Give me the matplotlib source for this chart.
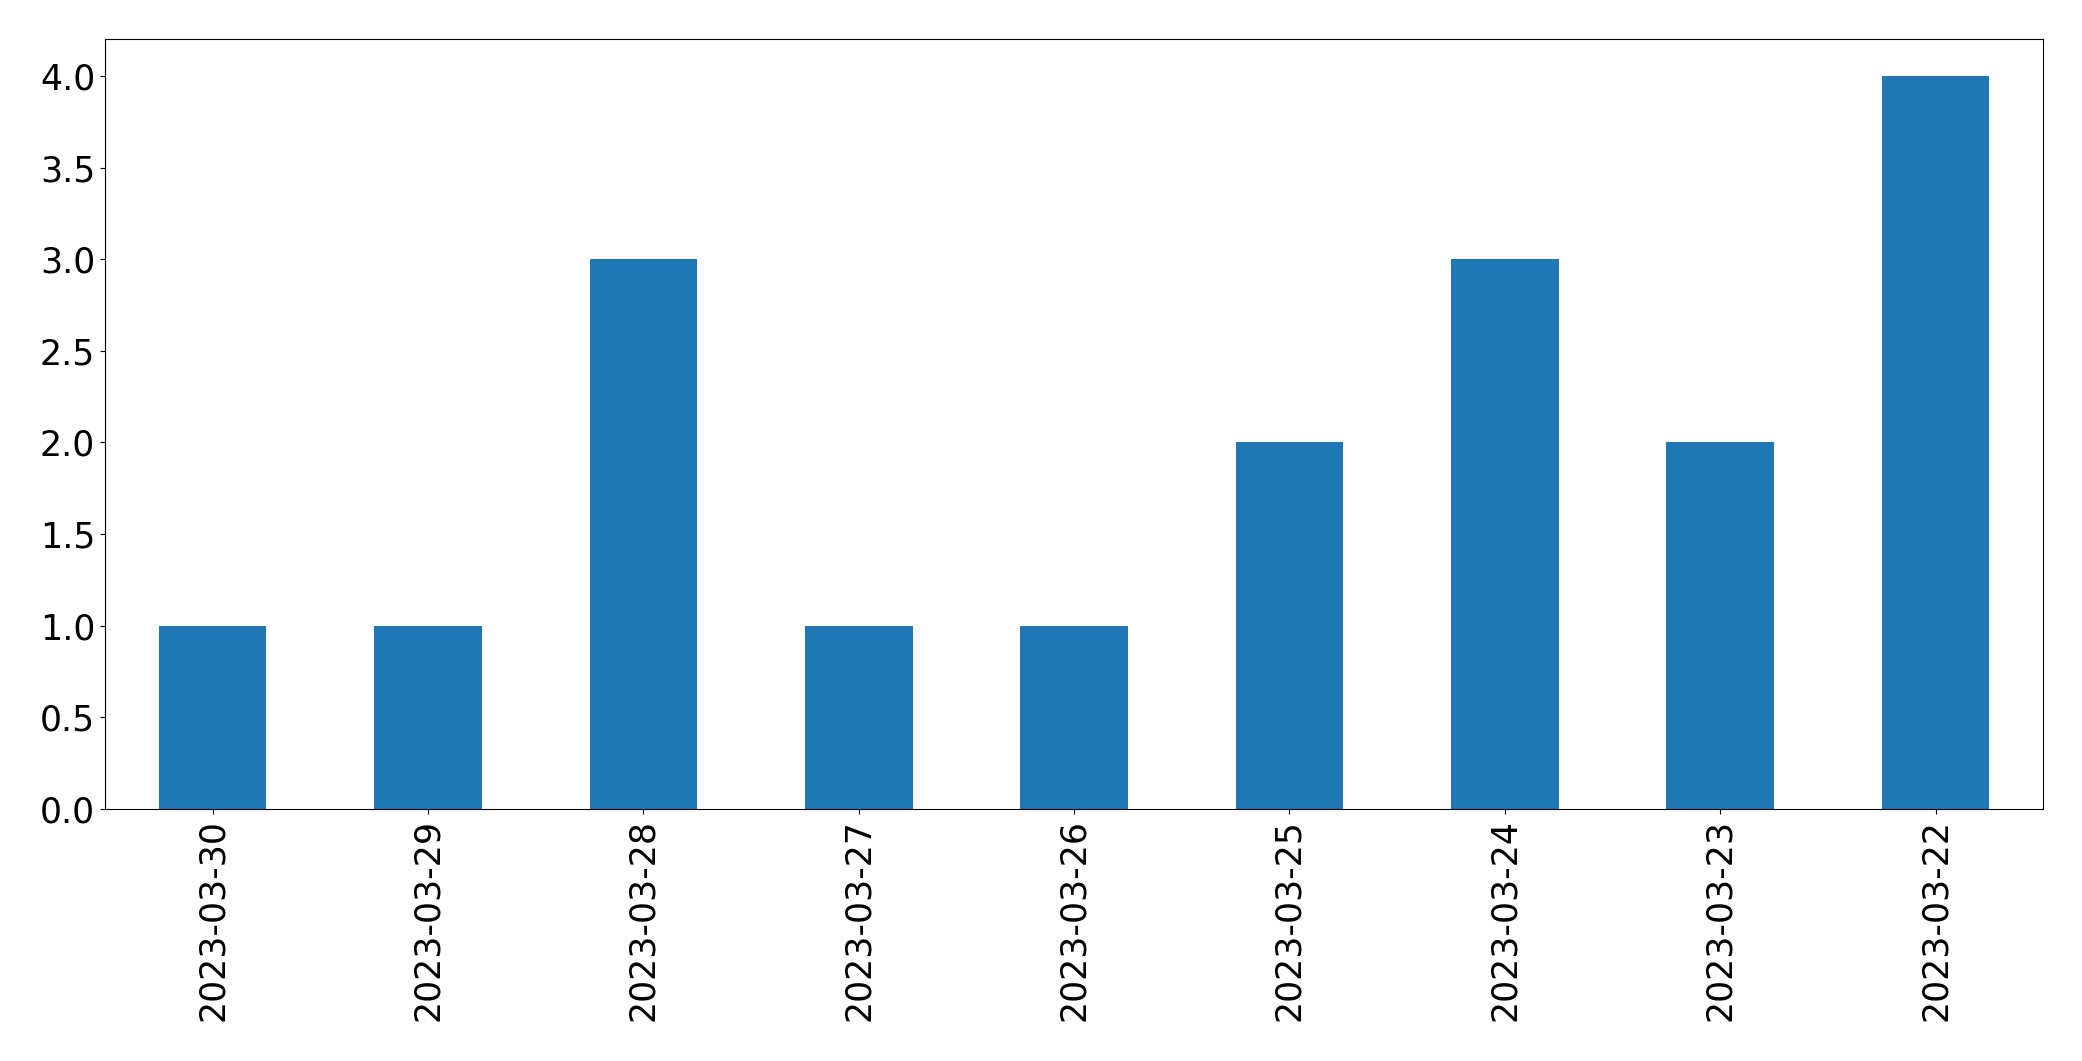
import matplotlib
matplotlib.use("Agg")
import matplotlib.pyplot as plt

# ── Data ──────────────────────────────────────────────────────────────────────

dates = [
    "2023-03-30", "2023-03-29", "2023-03-28", "2023-03-27", "2023-03-26",
    "2023-03-25", "2023-03-24", "2023-03-23", "2023-03-22",
]
counts = [1, 1, 3, 1, 1, 2, 3, 2, 4]

# ── Figure ────────────────────────────────────────────────────────────────────

fig = plt.figure(figsize=(20.82, 10.61), dpi=100)
ax = fig.add_axes([0.0504, 0.2375, 0.931, 0.7255])

x = list(range(len(dates)))
ax.bar(x, counts, width=0.5, color="#1f77b4")
ax.set_xlim(-0.5, len(dates) - 0.5)
ax.set_ylim(0, max(counts) * 1.05)
ax.set_xticks(x)
ax.set_xticklabels(dates, rotation=90)
ax.set_yticks([0, 0.5, 1, 1.5, 2, 2.5, 3, 3.5, 4])
ax.tick_params(labelsize=25)

fig.savefig("out.png", dpi=100)
plt.close(fig)
